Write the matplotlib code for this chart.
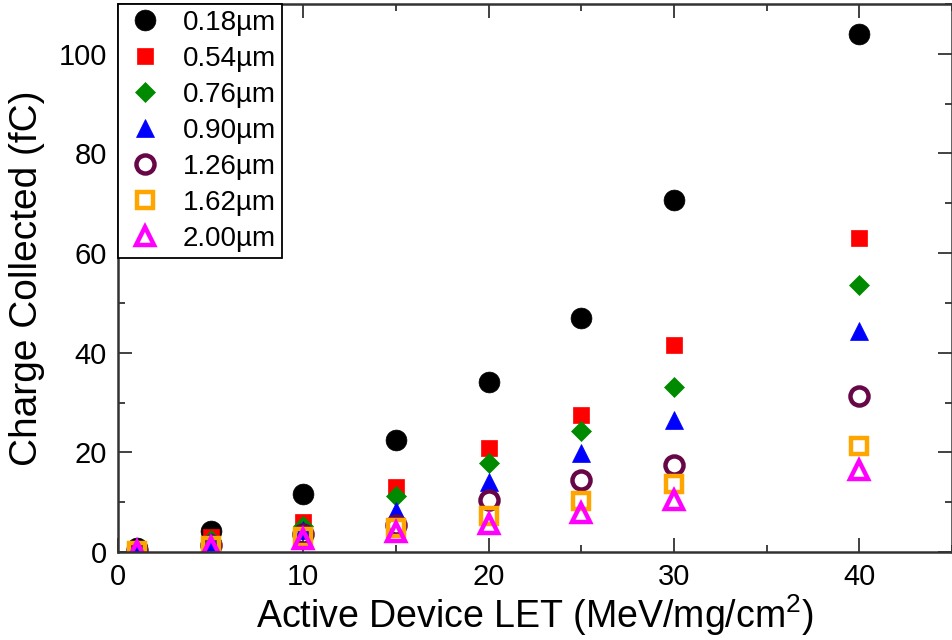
import matplotlib
matplotlib.use("Agg")
import matplotlib.pyplot as plt
from matplotlib.ticker import MultipleLocator

plt.rcParams['font.family'] = ['Liberation Sans', 'DejaVu Sans']
plt.rcParams['mathtext.fontset'] = 'custom'
plt.rcParams['mathtext.rm'] = 'Liberation Sans'

let = [1, 5, 10, 15, 20, 25, 30, 40]

labels = ["0.18\u00b5m", "0.54\u00b5m", "0.76\u00b5m", "0.90\u00b5m",
          "1.26\u00b5m", "1.62\u00b5m", "2.00\u00b5m"]

q_018 = [0.8, 4.2, 11.7, 22.5, 34.1, 47.0, 70.6, 104.0]
q_054 = [0.5, 3.0, 6.0, 13.1, 20.8, 27.4, 41.5, 63.0]
q_076 = [0.4, 2.5, 5.2, 11.3, 17.8, 24.2, 33.2, 53.5]
q_090 = [0.3, 2.0, 4.4, 8.3, 14.1, 19.8, 26.4, 44.4]
q_126 = [0.2, 1.5, 3.6, 5.5, 10.5, 14.5, 17.4, 31.3]
q_162 = [0.2, 1.2, 3.0, 4.8, 7.3, 10.3, 13.7, 21.2]
q_200 = [0.15, 1.0, 2.6, 4.0, 5.7, 7.9, 10.4, 16.4]

series = [q_018, q_054, q_076, q_090, q_126, q_162, q_200]

styles = [
    dict(marker='o', color='black', filled=True, ms=15),
    dict(marker='s', color='#ff0000', filled=True, ms=12),
    dict(marker='D', color='#008a00', filled=True, ms=10.5),
    dict(marker='^', color='#0000ff', filled=True, ms=13.5),
    dict(marker='o', color='#670748', filled=False, ms=13),
    dict(marker='s', color='#ffa500', filled=False, ms=11.5),
    dict(marker='^', color='#ff00ff', filled=False, ms=13),
]

fig = plt.figure(figsize=(9.53, 6.40), dpi=100)
ax = fig.add_axes([118 / 953, 1 - 552 / 640, 834 / 953, 548 / 640])

for ys, lab, st in zip(series, labels, styles):
    face = st['color'] if st['filled'] else 'none'
    ax.plot(let, ys, linestyle='none', marker=st['marker'], markersize=st['ms'],
            markerfacecolor=face, markeredgecolor=st['color'],
            markeredgewidth=3.2 if not st['filled'] else 0.5, label=lab)

ax.set_xlim(0, 45)
ax.set_ylim(0, 110)
ax.xaxis.set_major_locator(MultipleLocator(10))
ax.xaxis.set_minor_locator(MultipleLocator(5))
ax.yaxis.set_major_locator(MultipleLocator(20))
ax.yaxis.set_minor_locator(MultipleLocator(10))
ax.tick_params(which='both', direction='in', top=True, right=True,
               width=1.3, color='#333333')
ax.tick_params(which='major', length=10, labelsize=21, pad=8)
ax.tick_params(which='minor', length=5)
for sp in ax.spines.values():
    sp.set_linewidth(1.8)
    sp.set_color('#333333')

ax.set_xlabel("Active Device LET (MeV/mg/cm$^2$)", fontsize=27, labelpad=1)
ax.set_ylabel("Charge Collected (fC)", fontsize=28, labelpad=10)

leg = ax.legend(loc='upper left', borderaxespad=0, fontsize=20,
                fancybox=False, framealpha=1, edgecolor='black',
                handletextpad=0.6, labelspacing=0.36, borderpad=0.22,
                handlelength=1.5)
leg.get_frame().set_linewidth(1.3)

fig.savefig("out.png", dpi=100)
